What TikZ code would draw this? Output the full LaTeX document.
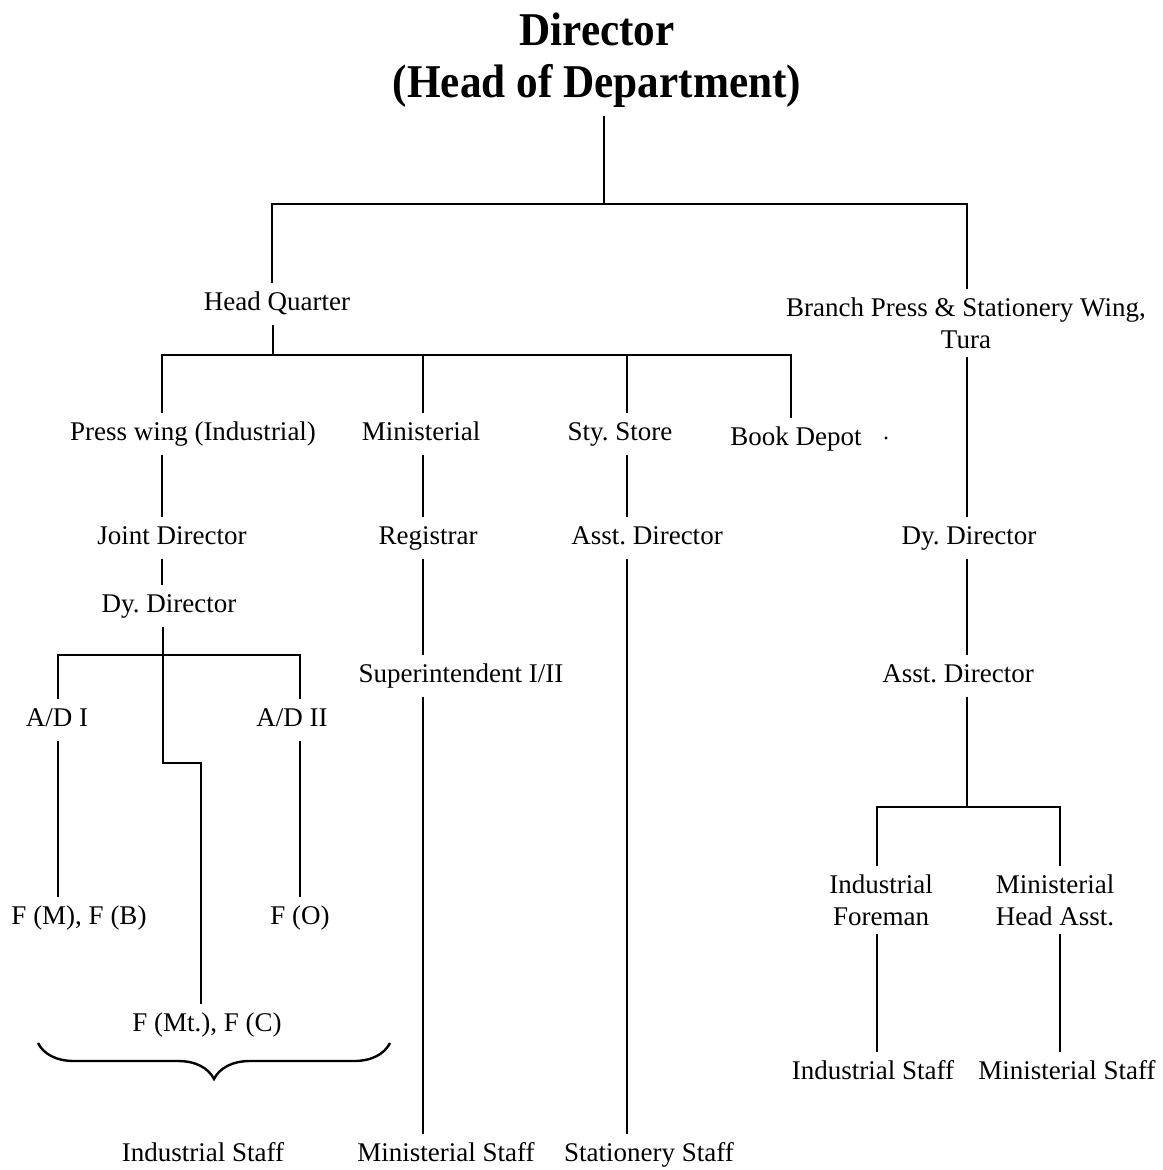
\documentclass[tikz,border=0pt]{standalone}
\usepackage{fontspec}
\setmainfont{Liberation Serif}
\newfontfamily\headfont[FakeStretch=0.92]{Liberation Serif}
\usetikzlibrary{decorations.pathreplacing}
\frenchspacing
\tikzset{
  post/.style={font=\fontsize{27}{32}\selectfont, inner sep=8pt, text height=19pt, text depth=6pt},
  posttwo/.style={font=\fontsize{27}{32}\selectfont, inner sep=8pt, align=center},
  link/.style={line width=2.2pt},
  bus/.style={line width=2.7pt},
}
\begin{document}
\begin{tikzpicture}[x=1pt,y=-1pt]
\useasboundingbox (0,0) rectangle (1162,1170);

\node (dir) at (597,60) [align=center, inner sep=8pt, font=\headfont\bfseries\fontsize{47}{52}\selectfont] {Director\\(Head of Department)};
\node[post] (hq) at (277,304) {Head Quarter};
\node[posttwo] (bsw) at (966,323) {Branch Press \& Stationery Wing,\\Tura};
\node[post] (pw) at (193,434) {Press wing (Industrial)};
\node[post] (min) at (421,434) {Ministerial};
\node[post] (sty) at (620,434) {Sty. Store};
\node[post] (bd) at (796,439) {Book Depot};
\fill (886,438) circle (1.6);
\node[post] (jd) at (172,538) {Joint Director};
\node[post] (reg) at (428,538) {Registrar};
\node[post] (ad1) at (647,538) {Asst. Director};
\node[post] (dd2) at (969,538) {Dy. Director};
\node[post] (dd1) at (169,606) {Dy. Director};
\node[post] (sup) at (461,676) {Superintendent I/II};
\node[post] (ad2) at (958,676) {Asst. Director};
\node[post] (adi) at (57,720) {A/D I};
\node[post] (adii) at (292,720) {A/D II};
\node[posttwo] (ifm) at (881,900) {Industrial\\Foreman};
\node[posttwo] (mha) at (1055,900) {Ministerial\\Head Asst.};
\node[post] (fmb) at (79,918) {F (M), F (B)};
\node[post] (fo) at (300,918) {F (O)};
\node[post] (fmc) at (207,1025) {F (Mt.), F (C)};
\node[post] (is2) at (873,1073) {Industrial Staff};
\node[post] (ms2) at (1067,1073) {Ministerial Staff};
\node[post] (is1) at (203,1155) {Industrial Staff};
\node[post] (ms1) at (446,1155) {Ministerial Staff};
\node[post] (ss) at (649,1155) {Stationery Staff};

\coordinate (top) at (604,204);
\coordinate (hqx) at (272,204);
\coordinate (bswx) at (967,204);
\coordinate (hqdown) at (273,355);
\coordinate (pwx) at (162,355);
\coordinate (minx) at (423,355);
\coordinate (styx) at (627,355);
\coordinate (bdx) at (791,355);
\coordinate (adix) at (58,655);
\coordinate (adiix) at (300,655);
\coordinate (ddx) at (163,655);
\coordinate (jog) at (201,763);
\coordinate (splitx) at (967,807);
\coordinate (ifx) at (877,807);
\coordinate (mhx) at (1060,807);
\coordinate (bl) at (38,1043);
\coordinate (br) at (390,1043);

\draw[link] (dir.south -| top) -- (top);
\draw[bus] (hq.north -| hqx) -- (hqx) -- (bswx) -- (bsw.north -| bswx);
\draw[link] (hq.south -| hqdown) -- (hqdown);
\draw[bus] (pw.north -| pwx) -- (pwx) -- (bdx) -- (bd.north -| bdx);
\draw[link] (minx) -- (min.north -| minx);
\draw[link] (styx) -- (sty.north -| styx);

\draw[link] (pw.south -| pwx) -- (jd.north -| pwx);
\draw[link] (jd.south -| pwx) -- (dd1.north -| pwx);
\draw[link] (dd1.south -| ddx) -- (ddx);
\draw[bus] (adi.north -| adix) -- (adix) -- (adiix) -- (adii.north -| adiix);
\draw[link] (ddx) |- (jog) -- (fmc.north -| jog);
\draw[link] (adi.south -| adix) -- (fmb.north -| adix);
\draw[link] (adii.south -| adiix) -- (fo.north -| adiix);
\draw[line width=2.4pt, decorate, decoration={brace, mirror, amplitude=36pt}] (bl) -- (br);

\draw[link] (min.south -| minx) -- (reg.north -| minx);
\draw[link] (reg.south -| minx) -- (sup.north -| minx);
\draw[link] (sup.south -| minx) -- (ms1.north -| minx);
\draw[link] (sty.south -| styx) -- (ad1.north -| styx);
\draw[link] (ad1.south -| styx) -- (ss.north -| styx);

\draw[link] (bsw.south -| bswx) -- (dd2.north -| bswx);
\draw[link] (dd2.south -| bswx) -- (ad2.north -| bswx);
\draw[link] (ad2.south -| splitx) -- (splitx);
\draw[bus] (ifm.north -| ifx) -- (ifx) -- (mhx) -- (mha.north -| mhx);
\draw[link] (ifm.south -| ifx) -- (is2.north -| ifx);
\draw[link] (mha.south -| mhx) -- (ms2.north -| mhx);
\end{tikzpicture}
\end{document}
